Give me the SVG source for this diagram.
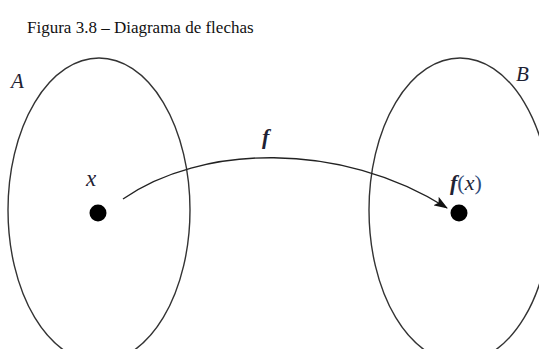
<svg xmlns="http://www.w3.org/2000/svg" width="539" height="349" viewBox="0 0 539 349">
<defs>
<style>
.set{fill:none;stroke:#333;stroke-width:1.4}
.dot{fill:#000}
.lbl{font-family:"Liberation Serif","DejaVu Serif",serif;font-style:italic;fill:#1e2233}
.title{font-family:"Liberation Serif",serif;font-size:17px;fill:#111}
.edge{fill:none;stroke:#222;stroke-width:1.4}
</style>
<marker id="ah" viewBox="0 0 14 10" refX="13" refY="5" markerWidth="14" markerHeight="10" markerUnits="userSpaceOnUse" orient="auto">
<path d="M0,0 L14,5 L0,10 L3,5 Z" fill="#111"/>
</marker>
</defs>
<rect width="539" height="349" fill="#fff"/>
<text class="title" x="27" y="33">Figura 3.8 – Diagrama de flechas</text>
<g id="setA">
<ellipse class="set" cx="99" cy="210" rx="91" ry="152"/>
<text class="lbl" x="11" y="88" font-size="21">A</text>
</g>
<g id="setB">
<ellipse class="set" cx="460" cy="210" rx="91" ry="152"/>
<text class="lbl" x="516" y="81" font-size="21">B</text>
</g>
<g id="nodeX">
<circle class="dot" cx="98" cy="213" r="8.5"/>
<text class="lbl" x="86" y="186" font-size="23">x</text>
</g>
<g id="nodeFX">
<circle class="dot" cx="459" cy="213" r="8.5"/>
<text class="lbl" x="450" y="190" font-size="22"><tspan font-weight="bold">f</tspan><tspan font-style="normal" fill="#2f4a78">(</tspan>x<tspan font-style="normal" fill="#2f4a78">)</tspan></text>
</g>
<g id="connectors">
<path class="edge" d="M123,199 C200,145 340,140 447,208" marker-end="url(#ah)"/>
<text class="lbl" x="262" y="144" font-size="22" font-weight="bold">f</text>
</g>
</svg>
